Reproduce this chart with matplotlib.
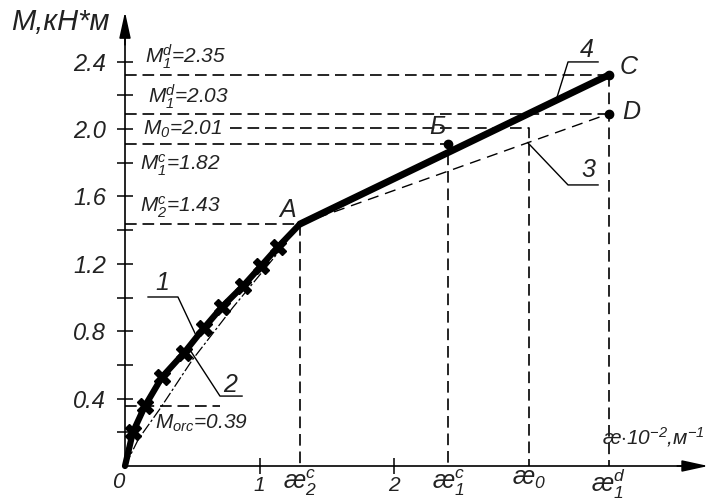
import matplotlib
matplotlib.use('Agg')
import matplotlib.pyplot as plt

# curve 1 (thick, with crosses) from origin to point A
curve_x = [0.0, 0.059, 0.148, 0.275, 0.438, 0.586, 0.720, 0.876, 1.010, 1.136, 1.299]
curve_y = [0.0, 0.202, 0.356, 0.528, 0.671, 0.819, 0.944, 1.068, 1.187, 1.300, 1.436]
# curve 2 (thin, slightly below)
thin_x = [0.0, 0.10, 0.26, 0.50, 0.80, 1.10, 1.299]
thin_y = [0.0, 0.16, 0.34, 0.63, 0.94, 1.23, 1.436]

# key points
pt_A = (1.299, 1.436)
pt_B = (2.40, 1.91)
pt_C = (3.59, 2.32)
pt_D = (3.59, 2.09)
k0 = 3.0
m0 = 2.006
m_orc = 0.358

y_major = [0.4, 0.8, 1.2, 1.6, 2.0, 2.4]
y_labels = ['0.4', '0.8', '1.2', '1.6', '2.0', '2.4']
y_minor = [0.2, 0.6, 1.0, 1.4, 1.8, 2.2]
x_major = [1, 2]
x_minor = [pt_A[0], pt_B[0], k0, pt_C[0]]
x_minor_labels = [r'æ$_2^c$', r'æ$_1^c$', r'æ$_0$', r'æ$_1^d$']

plt.rcParams['font.family'] = ['Liberation Sans Narrow', 'Liberation Sans', 'DejaVu Sans']
plt.rcParams['font.style'] = 'italic'
plt.rcParams['mathtext.fontset'] = 'custom'
plt.rcParams['mathtext.rm'] = 'Liberation Sans:italic'
plt.rcParams['mathtext.it'] = 'Liberation Sans:italic'

TXT = '#222222'
fig = plt.figure(figsize=(7.1, 5.0), dpi=100)
ax = fig.add_axes([0, 0, 1, 1])
ax.set_xlim(-125 / 134.7, 585 / 134.7)
ax.set_ylim(-34 / 168.5, 466 / 168.5)

for s in ['top', 'right']:
    ax.spines[s].set_visible(False)
ax.spines['left'].set_position(('data', 0))
ax.spines['bottom'].set_position(('data', 0))
ax.spines['left'].set_bounds(0, 2.55)
ax.spines['bottom'].set_bounds(0, 4.15)
ax.spines['left'].set_linewidth(1.2)
ax.spines['bottom'].set_linewidth(1.2)

ax.annotate('', xy=(0, 2.695), xytext=(0, 2.5),
            arrowprops=dict(arrowstyle='-|>,head_length=1.6,head_width=0.35',
                            color='black', lw=1.2, shrinkA=0, shrinkB=0))
ax.annotate('', xy=(4.33, 0), xytext=(4.1, 0),
            arrowprops=dict(arrowstyle='-|>,head_length=1.6,head_width=0.35',
                            color='black', lw=1.2, shrinkA=0, shrinkB=0))

ax.set_yticks(y_major)
ax.set_yticklabels(y_labels)
ax.set_yticks(y_minor, minor=True)
ax.tick_params(axis='y', which='both', direction='inout', length=11, width=1.1,
               pad=8, labelsize=17, labelcolor=TXT)
ax.set_xticks(x_major)
ax.set_xticklabels(['1', '2'])
ax.set_xticks(x_minor, minor=True)
ax.set_xticklabels(x_minor_labels, minor=True)
ax.tick_params(axis='x', which='major', direction='inout', length=12, width=1.1,
               pad=1, labelsize=15, labelcolor=TXT)
ax.tick_params(axis='x', which='minor', length=0, pad=1, labelsize=18, labelcolor=TXT)

dash = dict(color='black', lw=1.2, dashes=(7, 3.5))
# horizontal reference lines
ax.plot([0, pt_C[0]], [pt_C[1], pt_C[1]], **dash)
ax.plot([0, pt_D[0]], [pt_D[1], pt_D[1]], **dash)
ax.plot([0.78, k0, k0], [m0, m0, 0], **dash)
ax.plot([0, pt_B[0], pt_B[0]], [pt_B[1], pt_B[1], 0], **dash)
ax.plot([0, pt_A[0], pt_A[0]], [pt_A[1], pt_A[1], 0], **dash)
ax.plot([pt_C[0], pt_C[0]], [pt_C[1], 0], **dash)
ax.plot([0, 0.705], [m_orc, m_orc], **dash)

# line 2 and line 3
ax.plot(thin_x, thin_y, color='black', lw=0.9, dashes=(9, 2, 2, 2))
ax.plot([pt_A[0], pt_D[0]], [pt_A[1], pt_D[1]], color='black', lw=1.0, dashes=(8, 5))

# thick lines
ax.plot(curve_x, curve_y, color='black', lw=4.5, solid_capstyle='round')
ax.plot(curve_x[1:-1], curve_y[1:-1], ls='none', marker='X', ms=11, color='black')
ax.plot([pt_A[0], pt_C[0]], [pt_A[1], pt_C[1]], color='black', lw=5, solid_capstyle='round')

ax.plot([pt_B[0], pt_C[0], pt_D[0]], [pt_B[1], pt_C[1], pt_D[1]], 'o', color='black', ms=6)

# leaders
lead = dict(color='black', lw=1.0)
ax.plot([0.171, 0.393, 0.532], [1.003, 1.003, 0.767], **lead)
ax.plot([0.869, 0.705, 0.483], [0.415, 0.415, 0.688], **lead)
ax.plot([3.512, 3.289, 2.99], [1.668, 1.668, 1.919], **lead)
ax.plot([3.512, 3.289, 3.20], [2.398, 2.398, 2.17], **lead)

tk = dict(color=TXT, fontsize=15, va='center')
ax.text(0.148, 2.43, r'M$_1^d$=2.35', **tk)
ax.text(0.17, 2.19, r'M$_1^d$=2.03', **tk)
ax.text(0.134, 1.995, r'M$_0$=2.01', **tk)
ax.text(0.11, 1.786, r'M$_1^c$=1.82', **tk)
ax.text(0.11, 1.537, r'M$_2^c$=1.43', **tk)
ax.text(0.22, 0.255, r'M$_{orc}$=0.39', **tk)

pk = dict(color=TXT, fontsize=18, ha='center', va='center')
ax.text(1.21, 1.52, 'A', **pk)
ax.text(2.32, 2.01, 'Б', **pk)
ax.text(3.74, 2.37, 'C', **pk)
ax.text(3.76, 2.10, 'D', **pk)
ax.text(0.275, 1.086, '1', **pk)
ax.text(0.78, 0.48, '2', **pk)
ax.text(3.44, 1.757, '3', **pk)
ax.text(3.43, 2.47, '4', **pk)

ax.text(-0.48, 2.635, 'M,кН*м', color=TXT, fontsize=21, ha='center', va='center')
ax.text(4.30, 0.17, r'æ$\cdot$10$^{-2}$,м$^{-1}$', color=TXT, fontsize=15,
        ha='right', va='center')
ax.text(-0.05, -0.095, '0', color=TXT, fontsize=16, ha='center', va='center')

fig.savefig('out.png', dpi=100)
